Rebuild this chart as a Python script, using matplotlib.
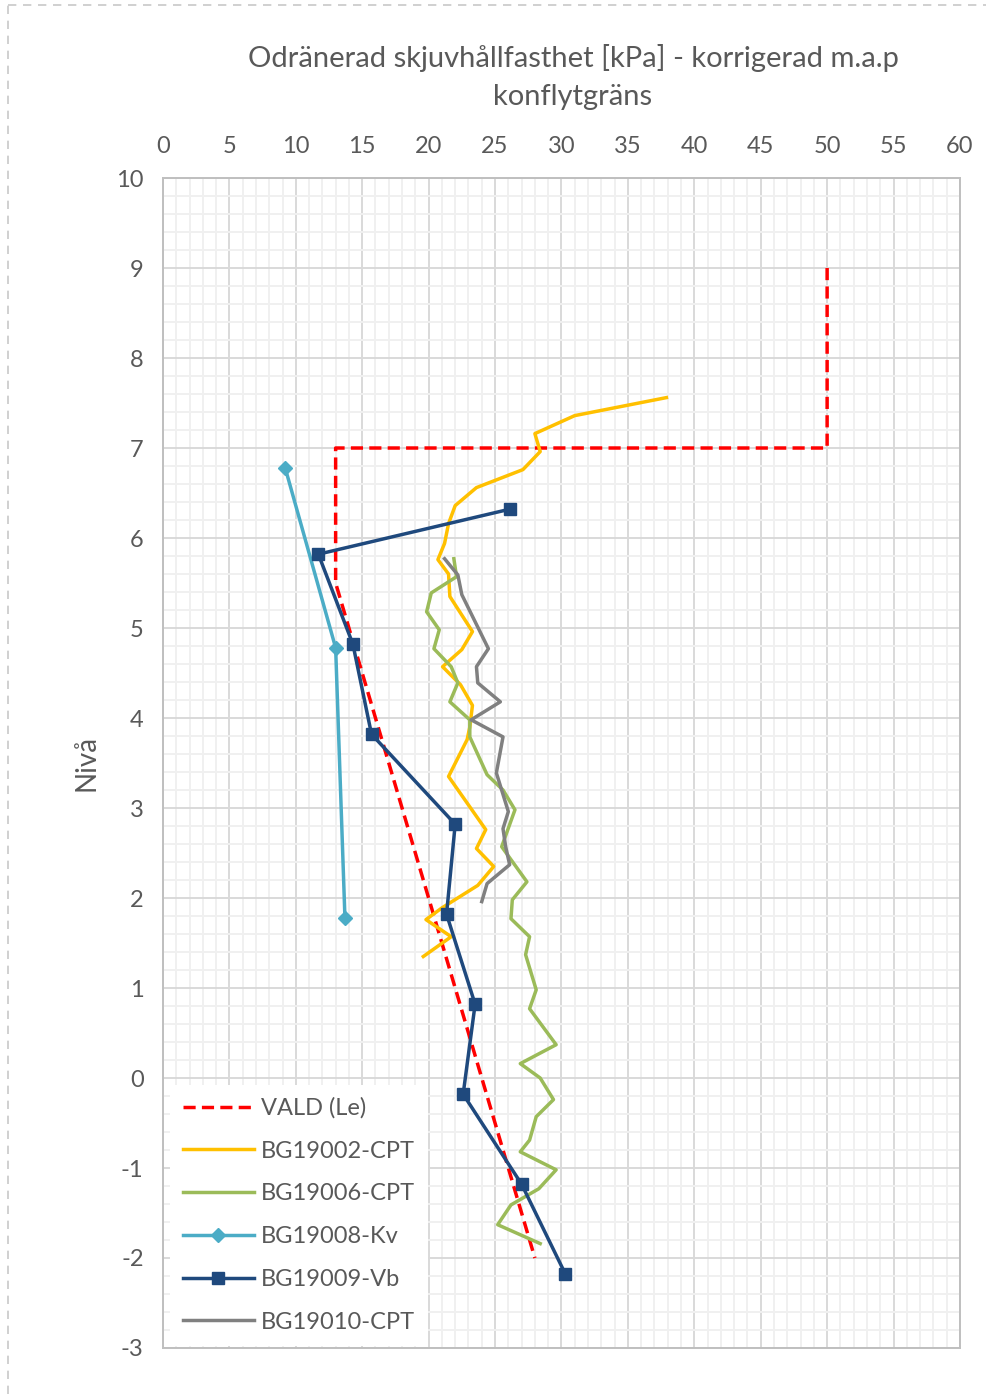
import matplotlib.pyplot as plt
from matplotlib.lines import Line2D
from matplotlib.ticker import MultipleLocator

plt.rcParams['font.family'] = ['Lato', 'DejaVu Sans']
plt.rcParams['axes.unicode_minus'] = False

# valt värde (Le)
vald_x = [50, 50, 13, 13, 28]
vald_y = [9, 7, 7, 5.5, -2]

# BG19002-CPT
cpt02_x = [37.9, 31.0, 28.0, 28.4, 27.1, 23.6, 22.0, 21.5, 21.2, 20.7, 21.5, 21.6,
           23.3, 22.5, 21.05, 22.4, 23.3, 23.1, 22.9, 21.5, 24.3, 23.6, 24.9, 23.7,
           21.0, 19.8, 21.7, 19.6]
cpt02_y = [7.56, 7.36, 7.16, 6.96, 6.76, 6.56, 6.36, 6.16, 5.94, 5.76, 5.6, 5.35,
           4.96, 4.76, 4.57, 4.37, 4.14, 3.9, 3.76, 3.35, 2.76, 2.55, 2.35, 2.14,
           1.89, 1.76, 1.57, 1.35]

# BG19006-CPT
cpt06_x = [21.9, 22.1, 20.2, 19.85, 20.8, 20.4, 21.7, 22.2, 21.6, 23.1, 23.1, 24.4,
           25.6, 26.5, 25.5, 27.4, 26.3, 26.2, 27.6, 27.3, 28.1, 27.6, 29.6, 26.9,
           28.4, 29.4, 28.1, 27.6, 26.9, 29.6, 28.3, 26.2, 25.2, 28.4]
cpt06_y = [5.77, 5.57, 5.39, 5.18, 4.98, 4.77, 4.57, 4.39, 4.18, 3.98, 3.79, 3.37,
           3.2, 2.98, 2.57, 2.18, 1.98, 1.77, 1.57, 1.37, 0.98, 0.77, 0.37, 0.16,
           0.0, -0.24, -0.43, -0.69, -0.82, -1.02, -1.23, -1.41, -1.63, -1.84]

# BG19008-Kv
kv_x = [9.2, 13.0, 13.7]
kv_y = [6.78, 4.78, 1.78]

# BG19009-Vb
vb_x = [26.1, 11.7, 14.3, 15.7, 22.0, 21.35, 23.5, 22.6, 27.0, 30.3]
vb_y = [6.32, 5.82, 4.82, 3.82, 2.82, 1.82, 0.82, -0.18, -1.18, -2.18]

# BG19010-CPT
cpt10_x = [21.2, 22.2, 22.5, 24.5, 23.6, 23.7, 25.4, 23.2, 25.6, 25.1, 26.0, 25.6,
           25.8, 26.1, 24.4, 24.0]
cpt10_y = [5.77, 5.59, 5.37, 4.77, 4.57, 4.39, 4.18, 3.98, 3.79, 3.39, 2.96, 2.77,
           2.57, 2.37, 2.16, 1.96]

txt = '#595959'

fig = plt.figure(figsize=(9.87, 13.94), dpi=100)
ax = fig.add_axes([0.1651, 0.0330, 0.8075, 0.8393])

ax.plot(vald_x, vald_y, color='#FF0000', lw=2.5, ls=(0, (3.5, 1.8)), label='VALD (Le)', zorder=3)
ax.plot(cpt02_x, cpt02_y, color='#FFC000', lw=2.5, label='BG19002-CPT', zorder=3)
ax.plot(cpt06_x, cpt06_y, color='#9BBB59', lw=2.5, label='BG19006-CPT', zorder=3)
ax.plot(kv_x, kv_y, color='#4BACC6', lw=2.5, marker='D', ms=7.5, label='BG19008-Kv', zorder=4)
ax.plot(vb_x, vb_y, color='#1F497D', lw=2.5, marker='s', ms=9, label='BG19009-Vb', zorder=5)
ax.plot(cpt10_x, cpt10_y, color='#808080', lw=2.5, label='BG19010-CPT', zorder=3)

ax.set_xlim(0, 60)
ax.set_ylim(-3, 10)
ax.xaxis.set_major_locator(MultipleLocator(5))
ax.xaxis.set_minor_locator(MultipleLocator(1))
ax.yaxis.set_major_locator(MultipleLocator(1))
ax.yaxis.set_minor_locator(MultipleLocator(0.2))
ax.xaxis.tick_top()
ax.tick_params(which='both', length=0, labelsize=17, labelcolor=txt)
ax.tick_params(axis='x', pad=15)
ax.tick_params(axis='y', pad=14)
ax.grid(which='major', color='#d9d9d9', lw=1.4)
ax.grid(which='minor', color='#f0f0f0', lw=1.4)
ax.set_axisbelow(True)
for s in ax.spines.values():
    s.set_color('#bfbfbf')
    s.set_linewidth(1.4)

ax.set_ylabel('Nivå', fontsize=20, color=txt, labelpad=12)
fig.text(0.5805, 0.9448, 'Odränerad skjuvhållfasthet [kPa] - korrigerad m.a.p\nkonflytgräns',
         ha='center', va='center', fontsize=21, color=txt, linespacing=1.6)

leg = ax.legend(loc='lower left', bbox_to_anchor=(0.006, 0.0), frameon=True, fontsize=17,
                handlelength=3.0, labelspacing=0.92, borderpad=0.55, handletextpad=0.3,
                borderaxespad=0.1)
leg.get_frame().set_edgecolor('none')
leg.get_frame().set_facecolor('white')
leg.get_frame().set_alpha(1)
for t in leg.get_texts():
    t.set_color(txt)

# dashed chart-area outline
fig.add_artist(Line2D([0.008, 1.0], [0.9965, 0.9965], transform=fig.transFigure,
                      color='#c8c8c8', lw=1.2, ls=(0, (5, 4))))
fig.add_artist(Line2D([0.008, 0.008], [0.0, 0.9965], transform=fig.transFigure,
                      color='#c8c8c8', lw=1.2, ls=(0, (5, 4))))

fig.savefig('out.png', dpi=100)
